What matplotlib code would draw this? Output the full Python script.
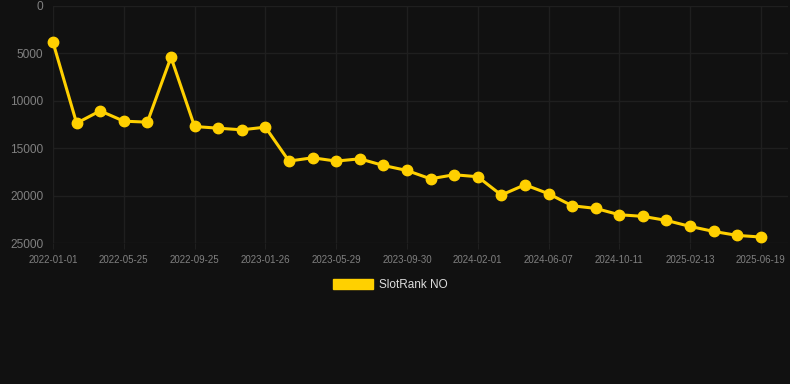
import matplotlib.pyplot as plt
from matplotlib.patches import Patch

plt.rcParams['font.family'] = ['Liberation Sans', 'DejaVu Sans']

dates = ["2022-01-01", "2022-05-25", "2022-09-25", "2023-01-26", "2023-05-29",
         "2023-09-30", "2024-02-01", "2024-06-07", "2024-10-11", "2025-02-13",
         "2025-06-19"]
ranks = [3830, 12360, 11060, 12150, 12250, 5400, 12710, 12890, 13060, 12780,
         16360, 16010, 16360, 16120, 16820, 17350, 18230, 17800, 18010, 19940,
         18860, 19800, 21070, 21350, 22020, 22190, 22620, 23250, 23780, 24200,
         24370]
yticks = [0, 5000, 10000, 15000, 20000, 25000]

bg = "#111111"
gold = "#FFD000"

fig = plt.figure(figsize=(7.9, 3.84), dpi=100, facecolor=bg)
ax = fig.add_axes([53 / 790, 1 - 243 / 384, (788 - 53) / 790, (243 - 6) / 384])
ax.set_facecolor(bg)

x = list(range(len(ranks)))
ax.plot(x, ranks, color=gold, lw=2.2, marker="o", ms=7.5, zorder=3, clip_on=False)

ax.set_xlim(0, 31.15)
ax.set_ylim(25000, 0)
ax.set_yticks(yticks)
ax.set_xticks(range(0, len(ranks), 3))
ax.set_xticklabels(dates)
ax.grid(True, color="#1f1f1f", lw=1)
for s in ax.spines.values():
    s.set_visible(False)
ax.tick_params(axis="y", length=0, pad=7, labelcolor="#808080", labelsize=8.6)
ax.tick_params(axis="x", length=4, color="#1f1f1f", pad=4.5, labelcolor="#808080", labelsize=7)

fig.legend(handles=[Patch(color=gold, label="SlotRank NO")], loc="center",
           bbox_to_anchor=(390 / 790, 1 - 285 / 384), frameon=False,
           labelcolor="#dddddd", fontsize=8.5, handlelength=3.4, handleheight=1.0,
           handletextpad=0.5)

fig.savefig("out.png", dpi=100, facecolor=bg)
